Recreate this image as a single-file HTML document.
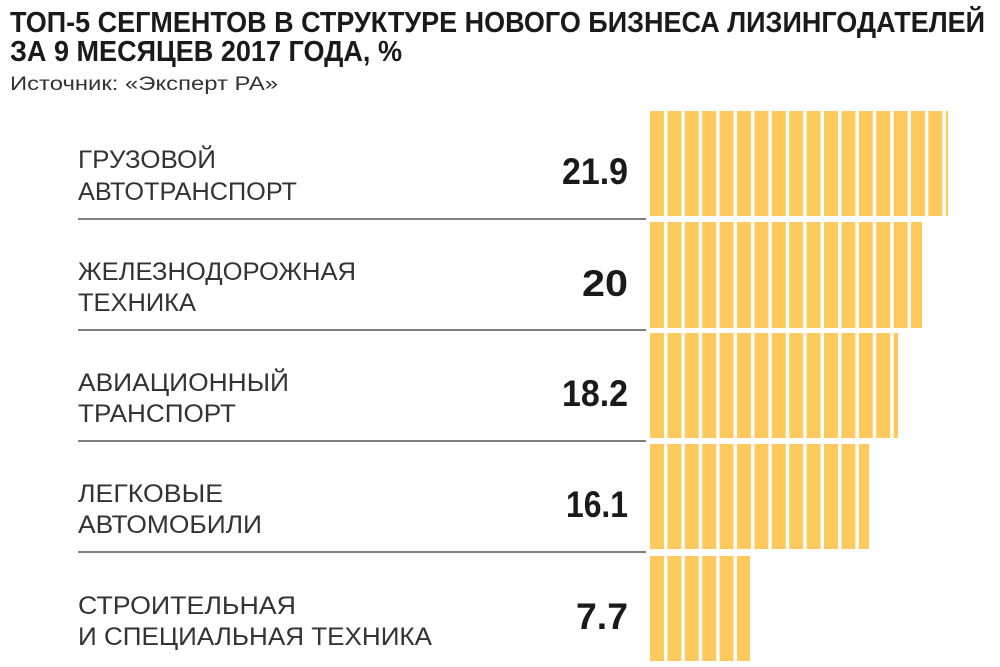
<!DOCTYPE html>
<html><head><meta charset="utf-8"><style>
html,body{margin:0;padding:0;background:#fff;width:1000px;height:667px;overflow:hidden}
svg{display:block}
</style></head><body>
<svg width="1000" height="667" viewBox="0 0 1000 667" xmlns="http://www.w3.org/2000/svg">
<defs>
<pattern id="st" x="650" y="0" width="17.4" height="10" patternUnits="userSpaceOnUse">
<rect x="0" y="0" width="14" height="10" fill="#FFC95E"/>
</pattern>
</defs>
<g font-family="'Liberation Sans Narrow','Liberation Sans',sans-serif" fill="#1a1a1a">
<text x="10" y="32" font-size="29" font-weight="bold" textLength="975" lengthAdjust="spacingAndGlyphs">ТОП-5 СЕГМЕНТОВ В СТРУКТУРЕ НОВОГО БИЗНЕСА ЛИЗИНГОДАТЕЛЕЙ</text>
<text x="10" y="61" font-size="29" font-weight="bold" textLength="392" lengthAdjust="spacingAndGlyphs">ЗА 9 МЕСЯЦЕВ 2017 ГОДА, %</text>
<text x="10" y="90" font-size="19" fill="#333" textLength="268" lengthAdjust="spacingAndGlyphs">Источник: «Эксперт РА»</text>
</g>
<g font-family="'Liberation Sans Narrow','Liberation Sans',sans-serif" font-size="25" fill="#333">
<text x="78" y="168" textLength="138" lengthAdjust="spacingAndGlyphs">ГРУЗОВОЙ</text>
<text x="78" y="200" textLength="219" lengthAdjust="spacingAndGlyphs">АВТОТРАНСПОРТ</text>
<text x="78" y="280" textLength="278" lengthAdjust="spacingAndGlyphs">ЖЕЛЕЗНОДОРОЖНАЯ</text>
<text x="78" y="311" textLength="118" lengthAdjust="spacingAndGlyphs">ТЕХНИКА</text>
<text x="78" y="391" textLength="211" lengthAdjust="spacingAndGlyphs">АВИАЦИОННЫЙ</text>
<text x="78" y="422" textLength="158" lengthAdjust="spacingAndGlyphs">ТРАНСПОРТ</text>
<text x="78" y="502" textLength="145" lengthAdjust="spacingAndGlyphs">ЛЕГКОВЫЕ</text>
<text x="78" y="533" textLength="184" lengthAdjust="spacingAndGlyphs">АВТОМОБИЛИ</text>
<text x="78" y="614" textLength="218" lengthAdjust="spacingAndGlyphs">СТРОИТЕЛЬНАЯ</text>
<text x="78" y="645" textLength="354" lengthAdjust="spacingAndGlyphs">И СПЕЦИАЛЬНАЯ ТЕХНИКА</text>
</g>
<g font-family="'Liberation Sans','Liberation Sans Narrow',sans-serif" font-size="37" font-weight="bold" fill="#1a1a1a" text-anchor="end">
<text x="628" y="184" textLength="66" lengthAdjust="spacingAndGlyphs">21.9</text>
<text x="628" y="296" textLength="46" lengthAdjust="spacingAndGlyphs">20</text>
<text x="628" y="406" textLength="66" lengthAdjust="spacingAndGlyphs">18.2</text>
<text x="628" y="517" textLength="62" lengthAdjust="spacingAndGlyphs">16.1</text>
<text x="628" y="629" textLength="52" lengthAdjust="spacingAndGlyphs">7.7</text>
</g>
<g stroke="#555" stroke-width="1.5">
<line x1="78" y1="219" x2="646" y2="219"/>
<line x1="78" y1="330" x2="646" y2="330"/>
<line x1="78" y1="441" x2="646" y2="441"/>
<line x1="78" y1="552" x2="646" y2="552"/>
</g>
<g fill="url(#st)">
<rect x="650" y="111" width="298" height="105"/>
<rect x="650" y="222" width="272" height="106"/>
<rect x="650" y="333" width="248" height="105"/>
<rect x="650" y="444" width="219" height="105"/>
<rect x="650" y="556" width="100" height="105"/>
</g>
</svg>
</body></html>
